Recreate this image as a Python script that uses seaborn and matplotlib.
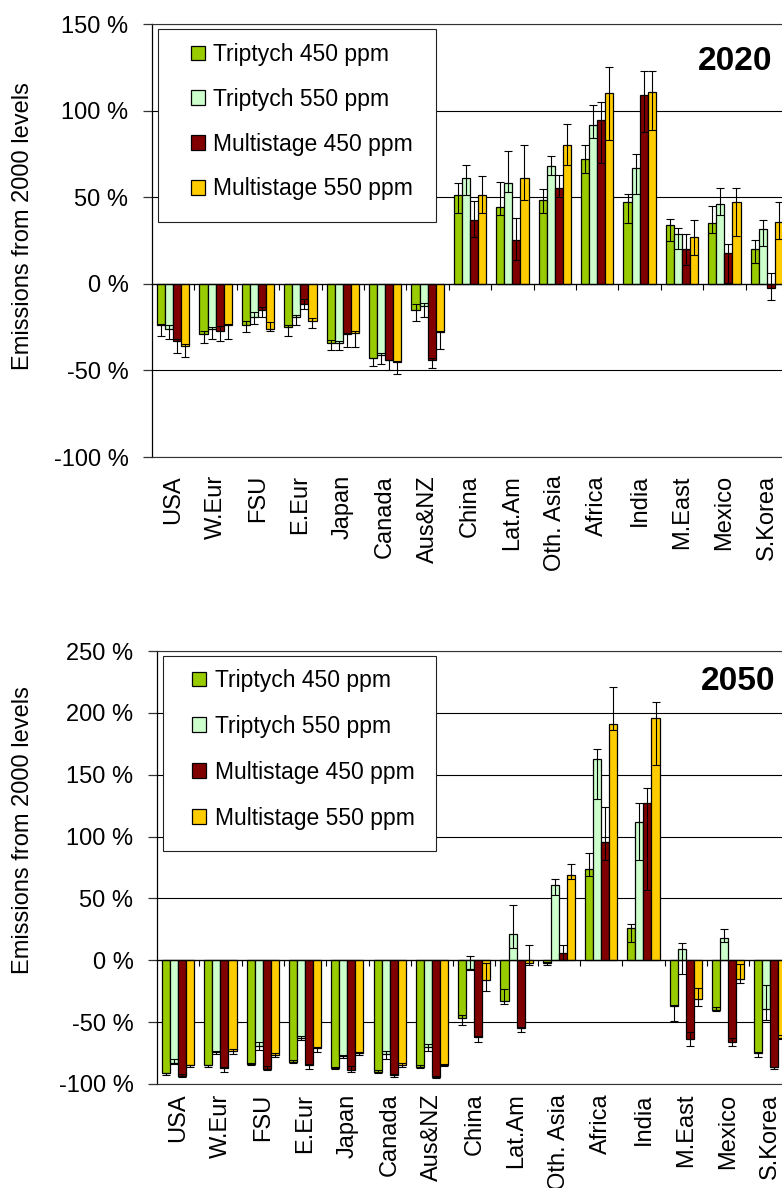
import numpy as np
import pandas as pd
import matplotlib
matplotlib.use("Agg")
import matplotlib.pyplot as plt
from matplotlib.patches import Rectangle
from matplotlib.ticker import FuncFormatter
import seaborn as sns

regions = ["USA", "W.Eur", "FSU", "E.Eur", "Japan", "Canada", "Aus&NZ", "China",
           "Lat.Am", "Oth. Asia", "Africa", "India", "M.East", "Mexico", "S.Korea"]
scenarios = ["Triptych 450 ppm", "Triptych 550 ppm", "Multistage 450 ppm", "Multistage 550 ppm"]
colors = ["#99CC00", "#CCFFCC", "#800000", "#FFCC00"]

# ---- 2020: change in emissions relative to 2000 (%), with low/high range ----
t450_2020 = [-24, -29, -24, -25, -34, -43, -15, 51, 44.5, 48.5, 72, 47, 34, 35, 20]
t450_2020_lo = [-30, -34, -28, -30, -38, -47.5, -21.5, 41, 40, 41, 64, 35, 25, 29.5, 12]
t450_2020_hi = [-23, -27.5, -21.5, -24, -32.5, -43, -11.5, 58, 59, 55, 80, 52, 37.5, 45, 25.5]

t550_2020 = [-26, -26, -19, -19, -34, -41, -13, 61, 58, 68, 91.5, 67, 29, 46, 31.5]
t550_2020_lo = [-32, -32, -23, -24, -38.5, -46.5, -19, 51, 53, 63, 84, 52, 20, 40, 22]
t550_2020_hi = [-24, -25, -16, -18, -33, -40, -11, 68.5, 76.5, 74, 103, 75, 32, 55.5, 37]

m450_2020 = [-33, -27, -15, -11.5, -29, -44, -44, 37, 25.5, 55.5, 94.5, 109, 20, 17.5, -2.5]
m450_2020_lo = [-40, -33, -19, -14.5, -36.5, -49.5, -48.5, 27, 14, 50, 70, 87.5, 11, 0.5, -9.5]
m450_2020_hi = [-32, -24.5, -13.5, -9, -28.5, -44, -43, 48, 38, 63, 105, 123, 29, 23, 6.5]

m550_2020 = [-36, -24, -26, -21.5, -28.5, -45, -28, 51, 61, 80, 110, 111, 27, 47, 35.5]
m550_2020_lo = [-42, -32, -27.5, -25.5, -36.5, -52, -37.5, 41, 48.5, 68.5, 83, 89, 16.5, 27.5, 26]
m550_2020_hi = [-35, -23, -22, -19.5, -27.5, -44.5, -27.5, 62, 80, 92, 125, 123, 37, 55.5, 47]

# ---- 2050 ----
t450_2050 = [-91.5, -85, -84, -82, -87, -90, -86, -47, -33, -2, 74, 26, -37, -40, -75]
t450_2050_lo = [-92.5, -86.5, -85, -83, -88, -91, -87, -52, -35.5, -4, 68, 15, -49, -41, -78]
t450_2050_hi = [-91, -84.5, -83, -81, -86, -89, -85, -44, -23.5, -1.5, 87, 29, -36, -38, -74]

t550_2050 = [-83, -74.5, -69, -62.5, -77.5, -76, -70, -7, 21, 61, 163, 112, 9, 18, -39]
t550_2050_lo = [-84, -76, -72.5, -64.5, -79, -79.5, -73.5, -8, 10, 53, 130, 81, -11, 15, -48]
t550_2050_hi = [-80, -73, -66, -61, -76.5, -73, -68, 3.5, 45, 66, 171, 127, 14, 25, -20]

m450_2050 = [-93.5, -87, -88, -85, -89, -93, -94.5, -62, -55, 6, 96, 127, -64, -66, -86.5]
m450_2050_lo = [-94, -90, -89, -87.5, -90, -94, -95, -66, -58, 0, 81, 57, -69, -69, -87.5]
m450_2050_hi = [-92, -86, -85.5, -83.5, -85.5, -92, -93.5, -61, -54, 12, 124, 139, -58, -63, -86]

m550_2050 = [-85, -73, -76.5, -70.5, -75, -84.5, -84.5, -16, -2, 69, 191, 196, -31, -15, -63]
m550_2050_lo = [-86.5, -76, -78, -74.5, -76.5, -86, -85.5, -24.5, -4, 66, 186, 158, -37, -18, -64]
m550_2050_hi = [-84.5, -72, -75, -70, -74, -83, -84, -2, 12.5, 78, 221, 209, -22, -3, -60]


def long_table(vals, lows, highs):
    rows = []
    for s, v, lo, hi in zip(scenarios, vals, lows, highs):
        for r, a, b, c in zip(regions, v, lo, hi):
            rows.append({"region": r, "scenario": s, "value": a, "low": b, "high": c})
    return pd.DataFrame(rows)


df2020 = long_table([t450_2020, t550_2020, m450_2020, m550_2020],
                    [t450_2020_lo, t550_2020_lo, m450_2020_lo, m550_2020_lo],
                    [t450_2020_hi, t550_2020_hi, m450_2020_hi, m550_2020_hi])
df2050 = long_table([t450_2050, t550_2050, m450_2050, m550_2050],
                    [t450_2050_lo, t550_2050_lo, m450_2050_lo, m550_2050_lo],
                    [t450_2050_hi, t550_2050_hi, m450_2050_hi, m550_2050_hi])

sns.set_style("white")
plt.rcParams["font.family"] = ["Liberation Sans", "DejaVu Sans"]
plt.rcParams["text.color"] = "black"
plt.rcParams["axes.labelcolor"] = "black"
plt.rcParams["xtick.color"] = "black"
plt.rcParams["ytick.color"] = "black"

W, H = 782, 1188
fig = plt.figure(figsize=(W / 100, H / 100), dpi=100)


def px_axes(left, top, right, bottom):
    return fig.add_axes([left / W, 1 - bottom / H, (right - left) / W, (bottom - top) / H])


def panel(ax, df, ymin, ymax, year, year_y, xlab_pad, frame, leg_anchor, leg_spacing, ylab_xy):
    sns.barplot(data=df, x="region", y="value", hue="scenario", order=regions,
                hue_order=scenarios, palette=colors, saturation=1, width=0.76,
                errorbar=None, edgecolor="black", linewidth=0.9, ax=ax, zorder=2)

    # range bars for each scenario
    for cont, s in zip(ax.containers, scenarios):
        sub = df[df["scenario"] == s].set_index("region").loc[regions]
        xs = [p.get_x() + p.get_width() / 2 for p in cont.patches]
        v = sub["value"].to_numpy(dtype=float)
        yerr = np.vstack([np.clip(v - sub["low"].to_numpy(), 0, None),
                          np.clip(sub["high"].to_numpy() - v, 0, None)])
        ax.errorbar(xs, v, yerr=yerr, fmt="none", ecolor="black", elinewidth=0.8,
                    capsize=2.9, capthick=0.8, zorder=4)

    ax.set_xlim(-0.5, len(regions) - 0.5)
    ax.set_ylim(ymin, ymax)
    ax.set_yticks(np.arange(ymin, ymax + 1, 50))
    ax.yaxis.set_major_formatter(FuncFormatter(lambda v, p: f"{int(round(v))} %"))
    ax.yaxis.grid(True, color="black", linewidth=0.8)
    ax.set_axisbelow(True)

    ax.tick_params(axis="y", left=True, direction="out", length=6.5, width=0.9,
                   pad=10.5, labelsize=17, color="#333333", labelcolor="black")
    ax.tick_params(axis="x", bottom=False, length=0, pad=xlab_pad, labelsize=17,
                   labelrotation=90, labelcolor="black")
    ax.set_xlabel("")
    ax.set_ylabel("Emissions from 2000 levels", fontsize=17, color="black")
    ax.yaxis.set_label_coords(*ylab_xy)

    for side in ("top", "bottom"):
        ax.spines[side].set_color("#333333")
        ax.spines[side].set_linewidth(0.8)
    ax.spines["right"].set_visible(False)
    ax.spines["left"].set_color("black")
    ax.spines["left"].set_linewidth(0.9)

    # category axis crossing at zero, with ticks between regions
    sec = ax.secondary_xaxis(0, transform=ax.transData)
    sec.set_xticks(np.arange(0.5, len(regions) - 0.5, 1))
    sec.tick_params(axis="x", bottom=True, direction="out", length=4.5, width=0.8,
                    labelbottom=False, color="black")
    sec.spines["bottom"].set_color("black")
    sec.spines["bottom"].set_linewidth(0.9)
    sec.set_zorder(3)

    # legend
    handles, labels = ax.get_legend_handles_labels()
    if ax.get_legend() is not None:
        ax.get_legend().remove()
    ax.add_patch(Rectangle(frame[:2], frame[2], frame[3], transform=ax.transAxes,
                           facecolor="white", edgecolor="#222222", linewidth=0.8,
                           zorder=5, clip_on=False))
    leg = ax.legend(handles, labels, loc="upper left", bbox_to_anchor=leg_anchor,
                    frameon=False, fontsize=16.5, handlelength=0.62, handleheight=0.62,
                    handletextpad=0.38, labelspacing=leg_spacing, borderpad=0,
                    borderaxespad=0, labelcolor="black")
    leg.set_zorder(6)

    ax.text(0.975, year_y, year, transform=ax.transAxes, ha="right", va="baseline",
            fontsize=24, fontweight="bold", color="black", zorder=6)


# top panel: 2020
ax1 = px_axes(152, 24, 152 + 15 * 42.4, 457)
w1, h1 = 636.0, 433.0
panel(ax1, df2020, -100, 150, "2020", (457 - 70) / h1, 13,
      ((158 - 152) / w1, (457 - 222) / h1, (436 - 158) / w1, (222 - 29) / h1),
      ((190.5 - 152) / w1, (457 - 43) / h1), 0.95,
      ((34 - 152) / w1, (457 - 226) / h1))

# bottom panel: 2050
ax2 = px_axes(157, 651, 157 + 15 * 42.3, 1084)
w2, h2 = 634.5, 433.0
panel(ax2, df2050, -100, 250, "2050", (1084 - 690.5) / h2, 7,
      ((163.3 - 157) / w2, (1084 - 850.7) / h2, (435.7 - 163.3) / w2, (850.7 - 656) / h2),
      ((192 - 157) / w2, (1084 - 669) / h2), 1.0,
      ((34 - 157) / w2, (1084 - 830) / h2))

fig.savefig("out.png", dpi=100)
